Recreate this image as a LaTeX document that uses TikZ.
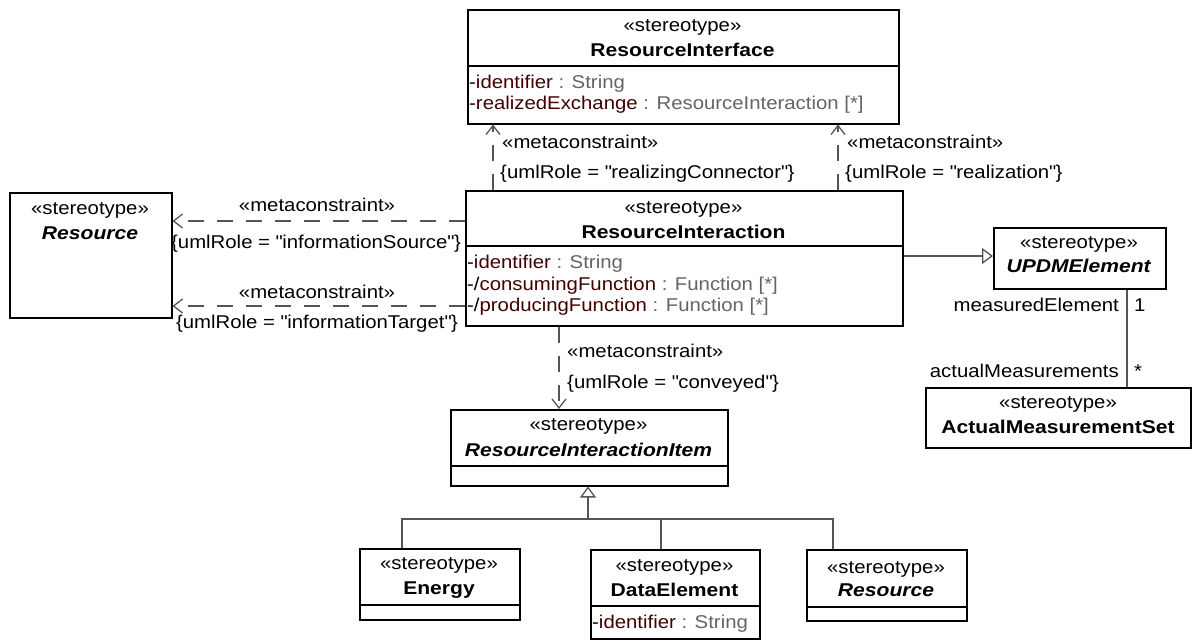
\documentclass[tikz,border=0pt]{standalone}
\usepackage{fontspec}
\setmainfont{Liberation Sans}[FakeStretch=1.1,BoldFeatures={FakeStretch=1.14},BoldItalicFeatures={FakeStretch=1.14}]
\usetikzlibrary{arrows.meta,calc}
\definecolor{attn}{RGB}{64,0,0}
\definecolor{attt}{RGB}{100,100,100}
\definecolor{lnk}{RGB}{85,85,85}
\newcommand\umlatt[3]{#1\textcolor{attn}{#2}\textcolor{attt}{\ : #3}}
\newcommand\dq{\XeTeXglyph\XeTeXcharglyph"22\relax}
\begin{document}
\begin{tikzpicture}[x=1pt,y=-1pt,
  every node/.style={inner sep=0pt, font=\fontsize{18.5}{21.5}\selectfont},
  box/.style={draw=black, line width=1.5pt, anchor=north west, inner sep=0pt},
  sep/.style={draw=black, line width=1.5pt},
  lbl/.style={anchor=mid, yshift=-4pt},
  attr/.style={anchor=mid west, yshift=-4pt},
  attre/.style={anchor=mid east, yshift=-4pt},
  conn/.style={draw=lnk, line width=1.3pt},
  dep/.style={conn, dash pattern=on 16pt off 13pt, -{Straight Barb[length=9pt,width=14pt]}},
  gen/.style={conn, -{Triangle[open,length=11pt,width=16pt,fill=white]}}]
\useasboundingbox (0,0) rectangle (1193,640);

% ---------- boxes ----------
\node[box, minimum width=431pt, minimum height=114pt] (ri) at (467,9) {};
\node[box, minimum width=437pt, minimum height=135pt] (rx) at (465,190) {};
\node[box, minimum width=162pt, minimum height=125pt] (res) at (9,192) {};
\node[box, minimum width=172pt, minimum height=61pt] (updm) at (993,227) {};
\node[box, minimum width=265pt, minimum height=60pt] (ams) at (925,387) {};
\node[box, minimum width=277pt, minimum height=76pt] (rii) at (450,409) {};
\node[box, minimum width=160pt, minimum height=71pt] (en) at (359,548) {};
\node[box, minimum width=169pt, minimum height=89pt] (de) at (590,549) {};
\node[box, minimum width=160pt, minimum height=71pt] (res2) at (806,549) {};

% ---------- compartment separators ----------
\draw[sep] ($(ri.north west)+(0,57)$) -- ($(ri.north east)+(0,57)$);
\draw[sep] ($(rx.north west)+(0,56)$) -- ($(rx.north east)+(0,56)$);
\draw[sep] ($(rii.north west)+(0,57)$) -- ($(rii.north east)+(0,57)$);
\draw[sep] ($(en.north west)+(0,57)$) -- ($(en.north east)+(0,57)$);
\draw[sep] ($(de.north west)+(0,57)$) -- ($(de.north east)+(0,57)$);
\draw[sep] ($(res2.north west)+(0,58)$) -- ($(res2.north east)+(0,58)$);

% ---------- box texts ----------
\node[lbl] (riS) at (682.5,25) {«stereotype»};
\node[lbl] (riN) at (682.5,50) {\textbf{ResourceInterface}};
\node[attr] (riA1) at (469,82) {\umlatt{-}{identifier}{String}};
\node[attr] (riA2) at (469,103) {\umlatt{-}{realizedExchange}{ResourceInteraction [*]}};

\node[lbl] (rxS) at (683.5,207) {«stereotype»};
\node[lbl] (rxN) at (683.5,232) {\textbf{ResourceInteraction}};
\node[attr] (rxA1) at (467,262) {\umlatt{-}{identifier}{String}};
\node[attr] (rxA2) at (467,284) {\umlatt{-/}{consumingFunction}{Function [*]}};
\node[attr] (rxA3) at (467,305) {\umlatt{-/}{producingFunction}{Function [*]}};

\node[lbl] (resS) at (90,208) {«stereotype»};
\node[lbl] (resN) at (90,233) {\textbf{\textit{Resource}}};

\node[lbl] (updmS) at (1079,242) {«stereotype»};
\node[lbl] (updmN) at (1079,266) {\textbf{\textit{UPDMElement}}};

\node[lbl] (amsS) at (1058,402) {«stereotype»};
\node[lbl] (amsN) at (1058,427) {\textbf{ActualMeasurementSet}};

\node[lbl] (riiS) at (588.5,424) {«stereotype»};
\node[lbl] (riiN) at (588.5,450) {\textbf{\textit{ResourceInteractionItem}}};

\node[lbl] (enS) at (439,563) {«stereotype»};
\node[lbl] (enN) at (439,588) {\textbf{Energy}};

\node[lbl] (deS) at (674.5,565) {«stereotype»};
\node[lbl] (deN) at (674.5,590) {\textbf{DataElement}};
\node[attr] (deA1) at (592,622) {\umlatt{-}{identifier}{String}};

\node[lbl] (res2S) at (886,567) {«stereotype»};
\node[lbl] (res2N) at (886,590) {\textbf{\textit{Resource}}};

% ---------- dependencies ----------
\draw[dep] ($(rx.north west)+(28,0)$) -- ($(ri.south west)+(26,0)$);
\draw[dep] ($(rx.north west)+(373,0)$) -- ($(ri.south west)+(371,0)$);
\coordinate (srcA) at ($(rx.north west)+(0,31)$);
\coordinate (srcB) at ($(rx.north west)+(0,116)$);
\draw[dep] (srcA) -- (res.east |- srcA);
\draw[dep] (srcB) -- (res.east |- srcB);
\draw[dep] ($(rx.south west)+(94,0)$) -- ($(rii.north west)+(109,0)$);

\node[attr] (m1) at (502,142) {«metaconstraint»};
\node[attr] (r1) at (500,172) {\{umlRole = \dq realizingConnector\dq\}};
\node[attr] (m2) at (847,142) {«metaconstraint»};
\node[attr] (r2) at (845,172) {\{umlRole = \dq realization\dq\}};
\node[lbl] (m3) at (317,205) {«metaconstraint»};
\node[lbl] (r3) at (316,242) {\{umlRole = \dq informationSource\dq\}};
\node[lbl] (m4) at (317,292) {«metaconstraint»};
\node[lbl] (r4) at (317,322) {\{umlRole = \dq informationTarget\dq\}};
\node[attr] (m5) at (567,351) {«metaconstraint»};
\node[attr] (r5) at (567,382) {\{umlRole = \dq conveyed\dq\}};

% ---------- generalizations ----------
\coordinate (gsrc) at ($(rx.north east)+(0,66)$);
\draw[gen] (gsrc) -- (updm.west |- gsrc);

\coordinate (j) at (588,519);
\draw[gen] (j) -- (rii.south -| j);
\coordinate (enTop) at ($(en.north west)+(43,0)$);
\coordinate (deTop) at ($(de.north west)+(71,0)$);
\coordinate (r2Top) at ($(res2.north west)+(27,0)$);
\draw[conn] (enTop) |- (j) -| (r2Top);
\draw[conn] (deTop) -- (deTop |- j);

% ---------- association ----------
\coordinate (aTop) at ($(updm.south west)+(134,0)$);
\coordinate (aBot) at ($(ams.north west)+(202,0)$);
\draw[conn] (aTop) -- (aBot);
\node[attre] (me) at (1119,305) {measuredElement};
\node[attr] (one) at (1134,305) {1};
\node[attre] (am) at (1119,371) {actualMeasurements};
\node[attr] (star) at (1134,371) {*};
\end{tikzpicture}
\end{document}
